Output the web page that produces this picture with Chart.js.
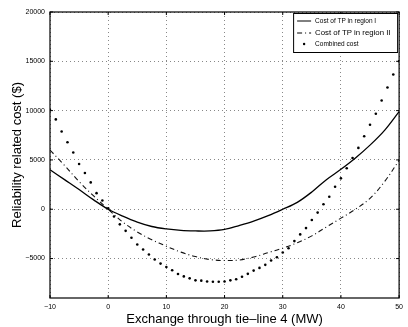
<!DOCTYPE html>
<html><head><meta charset="utf-8">
<script src="https://cdn.jsdelivr.net/npm/chart.js@4/dist/chart.umd.min.js"></script>
<style>html,body{margin:0;padding:0;background:#fff}#wrap{width:408px;height:327px}</style>
</head><body><div id="wrap"><canvas id="c" width="408" height="327"></canvas></div>
<script>
const lineX = [-10,-7.5,-5,-2.5,0,2.5,5,7.5,10,12.5,15,17.5,20,22.5,25,27.5,30,32.5,35,37.5,40,42.5,45,47.5,50];
const regionI = [4000,3000,2000,950,0,-700,-1300,-1750,-2000,-2150,-2200,-2200,-2050,-1650,-1200,-650,0,700,1750,3000,4050,5200,6500,8000,9900];
const regionII = [6000,4450,2800,1350,0,-1300,-2300,-3100,-3750,-4350,-4800,-5100,-5200,-5150,-4850,-4400,-3950,-3400,-2700,-1800,-900,0,1100,2800,4950];
const combinedX = [-10,-9,-8,-7,-6,-5,-4,-3,-2,-1,0,1,2,3,4,5,6,7,8,9,10,11,12,13,14,15,16,17,18,19,20,21,22,23,24,25,26,27,28,29,30,31,32,33,34,35,36,37,38,39,40,41,42,43,44,45,46,47,48,49,50];
const combined = [10050,9110,7890,6800,5750,4590,3670,2720,1630,890,100,-740,-1530,-2190,-2890,-3570,-4080,-4590,-5100,-5510,-5850,-6190,-6560,-6810,-7010,-7210,-7240,-7320,-7350,-7350,-7320,-7210,-7100,-6850,-6550,-6220,-5950,-5640,-5200,-4870,-4390,-3950,-3230,-2550,-1910,-1090,-340,510,1260,2280,3130,4150,5200,6220,7400,8570,9690,11020,12350,13670,15000];
const xTicks = [-10,0,10,20,30,40,50];
const yTicks = [-5000,0,5000,10000,15000,20000];
const labels = ['Cost of TP in region I','Cost of TP in region II','Combined cost'];

const FONT = '"Liberation Sans", Arial, sans-serif';
const pts = (xs, ys) => xs.map((x,i)=>({x:x,y:ys[i]}));
const fmt = v => (v<0 ? '\u2212'+Math.abs(v) : String(v));

const framePlugin = {
  id:'frame',
  afterDraw(chart){
    const {ctx, chartArea:a} = chart;
    ctx.save();
    ctx.strokeStyle='#000'; ctx.lineWidth=1.2; ctx.setLineDash([]);
    ctx.strokeRect(a.left, a.top, a.right-a.left, a.bottom-a.top);
    const xs = chart.scales.x, ys = chart.scales.y;
    ctx.lineWidth=1;
    xTicks.forEach(v=>{const p=xs.getPixelForValue(v);
      ctx.beginPath();ctx.moveTo(p,a.bottom);ctx.lineTo(p,a.bottom-3);ctx.moveTo(p,a.top);ctx.lineTo(p,a.top+3);ctx.stroke();});
    yTicks.forEach(v=>{const p=ys.getPixelForValue(v);
      ctx.beginPath();ctx.moveTo(a.left,p);ctx.lineTo(a.left+3,p);ctx.moveTo(a.right,p);ctx.lineTo(a.right-3,p);ctx.stroke();});
    // legend box
    const bx=a.right-106, by=a.top+1, bw=105, bh=40;
    ctx.fillStyle='#fff'; ctx.fillRect(bx,by,bw,bh);
    ctx.lineWidth=1; ctx.strokeRect(bx+0.5,by+0.5,bw-1,bh-1);
    const ds = chart.data.datasets;
    const rows=[by+8, by+20, by+31];
    const sizes=[6.5,7.8,6.5];
    ds.forEach((d,i)=>{
      const y=rows[i];
      ctx.strokeStyle='#000'; ctx.fillStyle='#000';
      if(i<2){
        ctx.lineWidth=1; ctx.setLineDash(d.borderDash||[]);
        ctx.beginPath(); ctx.moveTo(bx+4,y); ctx.lineTo(bx+18,y); ctx.stroke(); ctx.setLineDash([]);
      } else {
        ctx.beginPath(); ctx.arc(bx+11,y,1.2,0,Math.PI*2); ctx.fill();
      }
      ctx.font = sizes[i]+'px '+FONT; ctx.textBaseline='middle'; ctx.textAlign='left';
      ctx.fillText(d.label, bx+22, y);
    });
    ctx.restore();
  }
};

new Chart(document.getElementById('c'), {
  type:'scatter',
  data:{datasets:[
    {label:labels[0], data:pts(lineX,regionI), showLine:true, borderColor:'#000', borderWidth:1.3, pointRadius:0, tension:0.35, fill:false},
    {label:labels[1], data:pts(lineX,regionII), showLine:true, borderColor:'#111', borderWidth:1.1, borderDash:[5,3,1,3], pointRadius:0, tension:0.35, fill:false},
    {label:labels[2], data:pts(combinedX,combined), showLine:false, backgroundColor:'#000', borderColor:'#000', pointRadius:1.3, pointBorderWidth:0}
  ]},
  options:{
    responsive:false, animation:false,
    layout:{padding:{left:0,right:3,top:12,bottom:0}},
    plugins:{legend:{display:false}, tooltip:{enabled:false}},
    scales:{
      x:{type:'linear', min:-10, max:50,
        afterBuildTicks:s=>{s.ticks=xTicks.map(v=>({value:v}));},
        afterFit:s=>{s.height=29;},
        grid:{color:'#888', lineWidth:1, drawTicks:false},
        border:{display:false, dash:[1,3]},
        ticks:{font:{family:FONT,size:7}, color:'#000', padding:5, maxRotation:0, callback:fmt},
        title:{display:true, text:'Exchange through tie\u2013line 4 (MW)', font:{family:FONT,size:13}, color:'#000', padding:{top:0,bottom:0}}
      },
      y:{type:'linear', min:-9000, max:20000,
        afterBuildTicks:s=>{s.ticks=yTicks.map(v=>({value:v}));},
        afterFit:s=>{s.width=50;},
        grid:{color:'#888', lineWidth:1, drawTicks:false},
        border:{display:false, dash:[1,3]},
        ticks:{font:{family:FONT,size:7}, color:'#000', padding:5, callback:fmt},
        title:{display:true, text:'Reliability related cost ($)', font:{family:FONT,size:13}, color:'#000', padding:{top:10,bottom:0}}
      }
    }
  },
  plugins:[framePlugin]
});
</script></body></html>
